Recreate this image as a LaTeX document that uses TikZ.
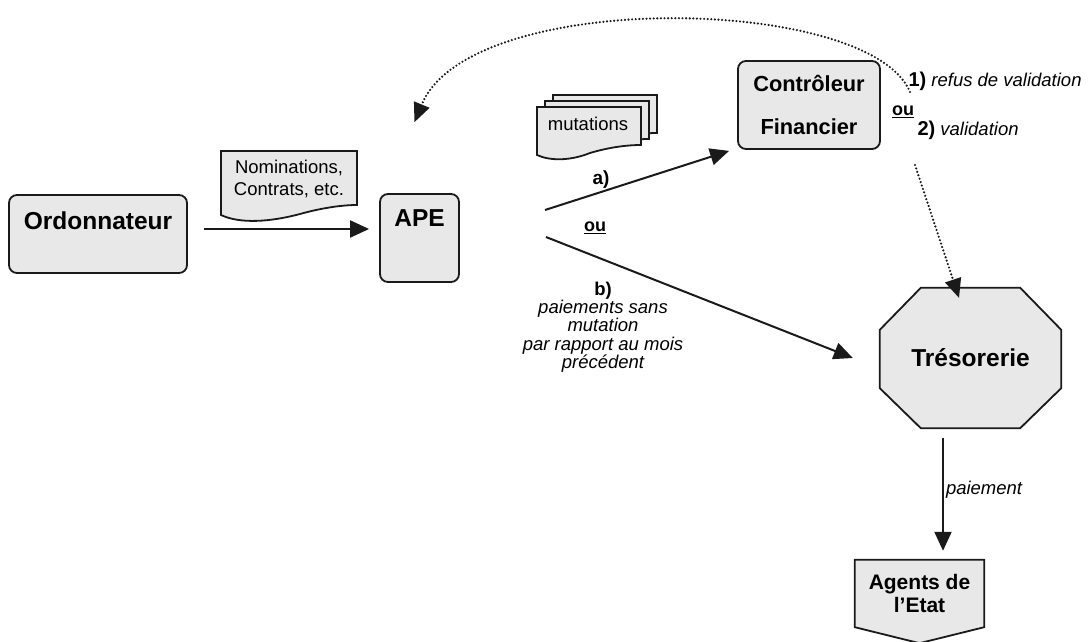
\documentclass[tikz,border=0pt]{standalone}
\usepackage{fontspec}
\setmainfont{Liberation Sans}
\usetikzlibrary{arrows.meta,calc}
\definecolor{boxfill}{HTML}{E8E8E8}
\definecolor{ink}{HTML}{1A1A1A}
\begin{document}
\begin{tikzpicture}[x=1pt,y=-1pt,
  box/.style={draw=ink,fill=boxfill,line width=1.8pt,rounded corners=8pt,inner sep=0pt},
  shapefill/.style={draw=ink,fill=boxfill,line width=1.8pt,line join=miter},
  bigtxt/.style={font=\fontsize{24.5}{24.5}\selectfont\bfseries},
  doctxt/.style={font=\fontsize{18.5}{22}\selectfont},
  smalltxt/.style={font=\fontsize{18.5}{18.3}\selectfont},
  arr/.style={draw=ink,line width=2pt,-{Triangle[length=19pt,width=17pt]}},
  dotarr/.style={draw=ink,line width=2.4pt,line cap=round,dash pattern=on 0pt off 3.6pt,-{Triangle[length=19pt,width=17pt,line cap=butt,line width=0pt]}}]
\useasboundingbox (0,0) rectangle (1088,642);

% Ordonnateur
\node[box,minimum width=178pt,minimum height=78pt,
  label={[bigtxt,yshift=13pt]center:Ordonnateur}] (ordo) at (98,234) {};

% APE
\node[box,minimum width=79pt,minimum height=88pt,
  label={[bigtxt,yshift=20pt]center:APE}] (ape) at (419.5,238) {};

% Controleur financier
\node[box,minimum width=142pt,minimum height=88pt,align=center,
  font=\fontsize{21.8}{43}\selectfont\bfseries] (cf) at (809,105) {Contrôleur\\Financier};

% Tresorerie octagon
\node[minimum width=181pt,minimum height=140pt,inner sep=0pt] (tres) at (970.5,358) {};
\draw[shapefill] ($(tres.north west)+(41,0)$) -- ($(tres.north east)+(-41,0)$)
  -- ($(tres.north east)+(0,42)$) -- ($(tres.south east)+(0,-40)$)
  -- ($(tres.south east)+(-41,0)$) -- ($(tres.south west)+(41,0)$)
  -- ($(tres.south west)+(0,-40)$) -- ($(tres.north west)+(0,42)$) -- cycle;
\node[bigtxt] (trestxt) at (tres.center) {Trésorerie};

% Agents de l'Etat
\node[minimum width=129pt,minimum height=67pt,inner sep=0pt] (agents) at (919.5,593.5) {};
\draw[shapefill] (agents.north west) -- (agents.north east) -- (agents.south east)
  -- ($(agents.south)+(0,16)$) -- (agents.south west) -- cycle;
\node[align=center,font=\fontsize{21}{23}\selectfont\bfseries] (agtxt) at (agents.center) {Agents de\\l’Etat};

% Document: Nominations, Contrats
\draw[shapefill] (221,151) -- (221,215) .. controls (240,224) and (270,222) .. (300,214)
  .. controls (325,207) and (345,205) .. (357,205) -- (357,151) -- cycle;
\node[doctxt,align=center] (nomdoc) at (289,179) {Nominations,\\Contrats, etc.};

% Documents: mutations (stack)
\foreach \dx/\dy in {16/-12,8/-6,0/0}{
  \draw[shapefill,shift={(\dx,\dy)}] (537,107) -- (537,155) .. controls (550,161) and (570,161) .. (590,153)
    .. controls (610,147) and (628,145) .. (641,145) -- (641,107) -- cycle;
}
\node[doctxt] (mutdoc) at (588,124) {mutations};

% Ordonnateur -> APE
\draw[arr] ([xshift=16pt,yshift=5pt]ordo.east) -- ([xshift=-10pt,yshift=5pt]ordo.east -| ape.west);

% a) APE -> Controleur
\coordinate (aStart) at (545,210);
\draw[arr] (aStart) -- ([xshift=-8pt,yshift=-1pt]cf.south west);
\node[font=\fontsize{19}{19}\selectfont\bfseries] (alab) at (601,180) {a)};
\node[font=\fontsize{18}{18}\selectfont\bfseries] (oulab) at (595,228) {\underline{ou}};

% b) APE -> Tresorerie
\coordinate (bStart) at (546,237);
\draw[arr] (bStart) -- ([xshift=-27pt]tres.west);
\node[smalltxt,align=center] (blab) at (603,327)
  {\textbf{b)}\\\itshape paiements sans\\\itshape mutation\\\itshape par rapport au mois\\\itshape précédent};

% Controleur outcomes
\node[smalltxt,anchor=west] (refus) at (905,81) {\textbf{\fontsize{20}{20}\selectfont 1)} \itshape refus de validation};
\node[font=\fontsize{18}{18}\selectfont\bfseries] (ou2) at (903,112) {\underline{ou}};
\node[smalltxt,anchor=west] (valid) at (914,130) {\textbf{\fontsize{20}{20}\selectfont 2)} \itshape validation};

% refus: dotted curve back to APE
\coordinate (refStart) at (910,92);
\coordinate (refEnd) at ([xshift=-5pt,yshift=71pt]ape.north);
\draw[dotarr] (refStart) .. controls (870,-5) and (470,-12) .. (refEnd);

% validation: dotted arrow to Tresorerie
\coordinate (valStart) at (915,165);
\draw[dotarr] (valStart) -- ([xshift=-11.5pt,yshift=-10pt]tres.north);

% Tresorerie -> Agents
\draw[arr] ([xshift=-27.5pt,yshift=-10pt]tres.south) -- node[pos=0.46,anchor=west,inner sep=2pt,font=\fontsize{18.5}{18.5}\selectfont\itshape] (paylab) {paiement} ([xshift=23.5pt,yshift=9pt]agents.north);
\end{tikzpicture}
\end{document}
